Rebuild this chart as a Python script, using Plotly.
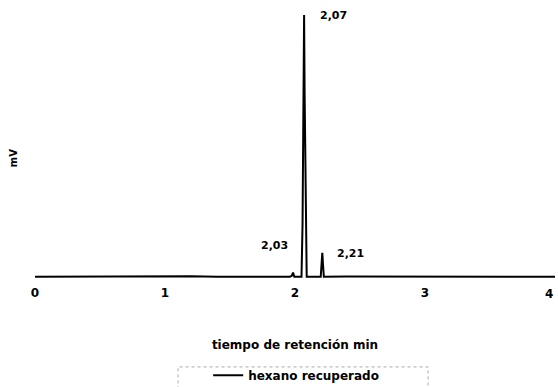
import plotly.graph_objects as go

# chromatogram signal (retention time in min, signal in mV, relative)
time_min = [0.0, 0.3, 0.6, 1.2, 1.4, 1.6, 1.96, 1.975, 1.985, 1.995, 2.05, 2.058, 2.066, 2.07, 2.074, 2.082, 2.09,
            2.198, 2.205, 2.21, 2.215, 2.222, 2.4, 3.0, 3.5, 4.0]
signal_mv = [0.0, 0.1, 0.0, 0.2, 0.0, 0.1, 0.0, 0.4, 1.6, 0.0, 0.0, 20.0, 70.0, 100.0, 70.0, 20.0, 0.0,
             0.0, 5.0, 9.2, 5.0, 0.0, 0.1, 0.0, 0.2, 0.0]

peak_labels = ["2,03", "2,07", "2,21"]
peak_label_x = [1.96, 2.18, 2.31]
peak_label_y = [12.0, 100.0, 8.8]
peak_anchor = ["right", "left", "left"]

x_ticks = [0, 1, 2, 3, 4]
series_name = "hexano recuperado"

FONT = "DejaVu Sans"

fig = go.Figure()
fig.add_trace(go.Scatter(
    x=time_min, y=signal_mv, mode="lines", name="<b>" + series_name + "</b>",
    line=dict(color="black", width=2), showlegend=True,
))

for lbl, lx, ly, anc in zip(peak_labels, peak_label_x, peak_label_y, peak_anchor):
    fig.add_annotation(x=lx, y=ly, text=f"<b>{lbl}</b>", showarrow=False,
                       xanchor=anc, yanchor="middle",
                       font=dict(family=FONT, size=11, color="black"))

# last tick label (sits on the right edge of the page)
fig.add_annotation(x=x_ticks[-1], xref="x", yref="paper", y=-0.053, text=f"<b>{x_ticks[-1]}</b>",
                   showarrow=False, xanchor="right", yanchor="middle",
                   font=dict(family=FONT, size=12, color="black"))

fig.add_annotation(xref="paper", yref="paper", x=-0.042, y=0.46, text="<b>mV</b>",
                   textangle=-90, showarrow=False, xanchor="center", yanchor="middle",
                   font=dict(family=FONT, size=10, color="black"))

# legend frame (dotted, light)
fig.add_shape(type="rect", xref="paper", yref="paper", x0=0.275, x1=0.756, y0=-0.45, y1=-0.328,
              line=dict(color="#aaaaaa", width=1, dash="dot"))

fig.update_layout(
    width=558, height=387,
    margin=dict(l=35, r=3, t=15, b=107, autoexpand=False),
    paper_bgcolor="white", plot_bgcolor="white",
    font=dict(family=FONT, color="black"),
    xaxis=dict(range=[0, 4], tickvals=x_ticks[:-1], ticktext=[f"<b>{t}</b>" for t in x_ticks[:-1]],
               showgrid=False, zeroline=False, showline=False, ticks="",
               automargin=False, ticklabelstandoff=4,
               tickfont=dict(family=FONT, size=12, color="black"),
               title=dict(text="<b>tiempo de retención min</b>", standoff=41,
                          font=dict(family=FONT, size=12, color="black"))),
    yaxis=dict(range=[-1.2, 100], showgrid=False, zeroline=False, showline=False,
               showticklabels=False, ticks="", automargin=False),
    legend=dict(x=0.333, y=-0.305, xanchor="left", yanchor="top", bgcolor="rgba(0,0,0,0)",
                borderwidth=0, font=dict(family=FONT, size=12, color="black"),
                itemwidth=30),
    showlegend=True,
)

fig.write_html("out.html", config={"displayModeBar": False},
               post_script="document.body.style.margin='0';document.body.style.overflow='hidden';")
